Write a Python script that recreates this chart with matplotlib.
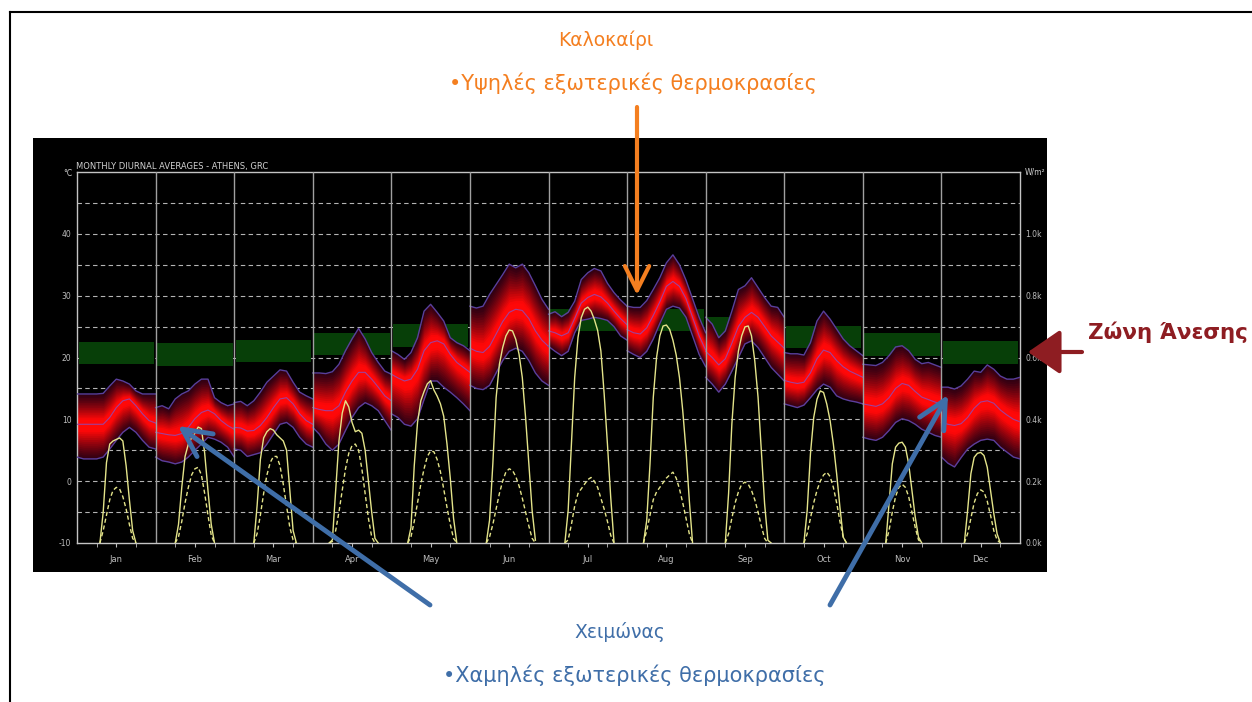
import numpy as np
import matplotlib
matplotlib.use('Agg')
import matplotlib.pyplot as plt
from matplotlib.patches import Rectangle, FancyArrowPatch
from matplotlib.lines import Line2D

plt.rcParams['font.family'] = ['DejaVu Sans']

W, H = 1252, 702

months = ['Jan', 'Feb', 'Mar', 'Apr', 'May', 'Jun',
          'Jul', 'Aug', 'Sep', 'Oct', 'Nov', 'Dec']

# hourly samples (every 2 h) of the diurnal temperature band, degC
hours = list(range(0, 25, 2))

temp_max = [
    [14.1, 14.1, 14.1, 14.1, 14.2, 15.4, 16.5, 16.2, 15.7, 14.6, 14.1, 14.1, 14.1],
    [11.9, 12.2, 11.7, 13.3, 14.1, 14.6, 15.7, 16.5, 16.5, 13.5, 12.7, 12.2, 12.5],
    [12.7, 12.9, 12.2, 13.0, 14.4, 16.0, 17.0, 18.0, 17.8, 16.0, 14.4, 13.8, 13.3],
    [17.5, 17.5, 17.4, 17.7, 18.9, 21.1, 23.0, 24.7, 23.0, 20.8, 19.2, 17.8, 17.3],
    [21.1, 20.5, 19.7, 20.8, 23.2, 27.5, 28.6, 27.3, 25.9, 23.2, 22.4, 21.9, 21.1],
    [28.3, 28.0, 28.3, 30.2, 31.8, 33.4, 35.1, 34.5, 35.1, 33.7, 31.6, 29.4, 27.8],
    [27.0, 27.4, 26.6, 27.3, 29.1, 32.6, 33.7, 34.4, 34.0, 32.0, 30.5, 29.3, 28.3],
    [28.3, 28.1, 28.1, 29.2, 31.0, 32.9, 35.3, 36.6, 35.0, 32.5, 29.5, 26.5, 24.0],
    [26.5, 25.4, 23.2, 24.3, 27.5, 31.0, 31.6, 32.9, 31.3, 29.7, 28.3, 28.1, 26.5],
    [20.8, 20.6, 20.6, 20.4, 22.4, 25.9, 27.5, 26.2, 24.6, 23.0, 21.9, 21.1, 20.3],
    [18.9, 18.8, 18.7, 19.2, 20.3, 21.7, 21.9, 21.1, 19.7, 19.0, 19.2, 18.8, 18.4],
    [15.2, 15.2, 14.9, 15.4, 16.5, 17.8, 17.6, 18.8, 18.1, 17.0, 16.5, 16.5, 16.8],
]

temp_mean = [
    [9.2, 9.2, 9.2, 9.2, 9.2, 10.3, 11.9, 13.0, 13.3, 12.2, 10.9, 9.8, 9.4],
    [7.9, 7.7, 7.5, 7.4, 7.7, 8.7, 10.1, 11.1, 11.5, 10.9, 9.8, 9.0, 8.4],
    [8.7, 8.6, 8.1, 8.2, 9.0, 10.3, 11.9, 13.3, 13.5, 12.5, 10.9, 9.8, 9.2],
    [11.9, 11.6, 11.4, 11.4, 12.2, 14.4, 16.2, 17.6, 17.6, 16.5, 15.2, 13.8, 13.0],
    [17.3, 16.7, 16.2, 16.5, 18.1, 21.1, 22.4, 22.7, 22.2, 20.5, 19.2, 18.4, 17.6],
    [21.5, 21.0, 20.8, 21.8, 23.8, 25.8, 27.3, 27.8, 27.6, 26.3, 24.3, 22.8, 21.8],
    [24.3, 24.0, 23.5, 24.0, 26.3, 28.8, 29.7, 30.2, 29.8, 28.8, 27.5, 26.3, 25.3],
    [24.5, 24.0, 23.8, 24.8, 26.8, 29.0, 31.5, 32.3, 31.5, 29.5, 26.5, 23.5, 21.2],
    [21.0, 20.0, 18.8, 19.8, 22.3, 25.0, 26.5, 27.3, 26.5, 25.0, 23.5, 22.5, 21.5],
    [16.3, 16.0, 15.8, 16.0, 17.5, 19.8, 21.2, 20.8, 19.5, 18.5, 17.8, 17.3, 16.8],
    [12.5, 12.3, 12.1, 12.5, 13.5, 15.0, 15.8, 15.5, 14.5, 13.6, 13.2, 12.8, 12.5],
    [9.5, 9.2, 9.0, 9.3, 10.3, 11.8, 12.8, 13.0, 12.6, 11.5, 10.7, 10.0, 9.6],
]

temp_min = [
    [3.9, 3.6, 3.6, 3.6, 3.9, 5.2, 6.6, 7.9, 8.7, 7.9, 6.6, 5.5, 5.2],
    [3.9, 3.3, 3.1, 2.8, 3.1, 3.9, 5.0, 6.0, 7.1, 6.8, 6.3, 5.5, 3.9],
    [5.2, 5.0, 4.0, 4.3, 4.6, 6.0, 7.6, 9.2, 9.5, 8.7, 7.1, 6.0, 5.5],
    [8.7, 7.6, 6.0, 5.0, 6.0, 8.2, 10.3, 11.9, 12.7, 12.2, 11.4, 9.8, 8.2],
    [10.9, 10.3, 9.2, 8.9, 10.1, 13.2, 16.2, 16.2, 15.2, 14.4, 13.5, 12.5, 11.4],
    [15.5, 15.0, 14.8, 15.5, 17.5, 19.5, 21.0, 21.5, 21.0, 19.5, 17.5, 16.2, 15.5],
    [21.8, 21.0, 20.3, 21.0, 24.0, 26.0, 26.2, 26.5, 26.3, 26.0, 25.0, 23.5, 22.8],
    [21.1, 20.5, 20.0, 21.0, 23.0, 25.5, 27.8, 28.3, 28.0, 26.5, 23.5, 20.5, 18.5],
    [16.8, 15.7, 14.4, 15.7, 17.8, 20.0, 22.2, 22.7, 21.6, 20.0, 18.4, 17.3, 16.2],
    [12.5, 12.2, 11.9, 12.3, 13.5, 14.8, 15.7, 15.2, 13.8, 13.3, 13.0, 12.8, 12.5],
    [7.1, 6.8, 6.6, 7.1, 8.2, 9.5, 10.1, 9.8, 9.2, 8.4, 7.9, 7.4, 7.1],
    [3.9, 2.9, 2.3, 3.8, 5.2, 6.0, 6.6, 6.8, 6.6, 5.5, 4.7, 3.9, 3.6],
]

# comfort zone per month, degC
comfort_low = [18.9, 18.7, 19.2, 20.4, 21.7, 22.8, 24.3, 24.3, 23.1, 21.6, 20.2, 19.0]
comfort_high = [22.5, 22.3, 22.8, 24.0, 25.4, 26.5, 27.8, 27.9, 26.6, 25.1, 23.9, 22.7]

# hourly solar radiation, W/m2, hours 5..20
solar_hours = list(range(5, 21))

solar_direct = [
    [0, 0, 0, 100, 260, 320, 330, 335, 340, 330, 250, 140, 40, 0, 0, 0],
    [0, 0, 60, 180, 280, 320, 340, 355, 375, 370, 290, 170, 60, 0, 0, 0],
    [0, 0, 120, 270, 340, 360, 370, 365, 350, 340, 330, 300, 170, 40, 0, 0],
    [0, 10, 170, 330, 420, 460, 440, 390, 360, 365, 355, 300, 200, 100, 15, 0],
    [0, 50, 250, 390, 460, 490, 515, 525, 495, 475, 450, 410, 320, 210, 80, 0],
    [0, 74, 256, 470, 578, 632, 670, 689, 686, 659, 611, 535, 406, 256, 105, 9],
    [0, 105, 320, 535, 664, 729, 756, 763, 750, 723, 688, 621, 482, 320, 148, 3],
    [0, 73, 256, 471, 600, 670, 702, 705, 691, 656, 608, 535, 428, 299, 138, 0],
    [0, 0, 160, 385, 535, 621, 670, 699, 702, 670, 589, 471, 299, 127, 9, 0],
    [0, 0, 105, 288, 406, 465, 492, 487, 449, 396, 320, 224, 116, 19, 0, 0],
    [0, 0, 0, 127, 256, 310, 323, 326, 310, 256, 170, 84, 19, 0, 0, 0],
    [0, 0, 0, 105, 224, 277, 290, 293, 283, 245, 170, 95, 30, 0, 0, 0],
]

solar_diffuse = [
    [0, 0, 0, 40, 90, 140, 170, 180, 175, 150, 110, 60, 15, 0, 0, 0],
    [0, 0, 20, 70, 130, 180, 220, 240, 245, 220, 160, 90, 25, 0, 0, 0],
    [0, 0, 30, 90, 160, 220, 260, 280, 280, 250, 190, 120, 50, 10, 0, 0],
    [0, 5, 40, 100, 170, 240, 290, 315, 320, 300, 240, 160, 80, 20, 0, 0],
    [0, 20, 70, 130, 190, 240, 280, 298, 295, 270, 230, 175, 115, 60, 15, 0],
    [0, 20, 60, 110, 160, 200, 230, 240, 235, 215, 185, 145, 100, 55, 15, 0],
    [0, 10, 60, 120, 160, 175, 190, 205, 212, 200, 180, 145, 110, 70, 25, 0],
    [0, 40, 90, 140, 165, 180, 195, 210, 220, 229, 210, 175, 130, 80, 30, 0],
    [0, 0, 30, 80, 130, 165, 190, 197, 190, 170, 140, 100, 55, 15, 0, 0],
    [0, 0, 30, 80, 130, 170, 200, 220, 229, 215, 180, 130, 70, 20, 0, 0],
    [0, 0, 0, 40, 100, 150, 180, 190, 180, 150, 100, 50, 10, 0, 0, 0],
    [0, 0, 0, 30, 80, 130, 160, 172, 165, 135, 90, 40, 10, 0, 0, 0],
]


def fx(x):
    return x / W


def fy(y):
    return 1 - y / H


fig = plt.figure(figsize=(W / 100, H / 100), dpi=100)
fig.patch.set_facecolor('white')

# slide frame
fig.add_artist(Line2D([fx(10), 1], [fy(12), fy(12)], color='black', lw=1.5))
fig.add_artist(Line2D([fx(10), fx(10)], [fy(12), 0], color='black', lw=1.5))

# black background of the screenshot
fig.add_artist(Rectangle((fx(33), fy(572)), fx(1047) - fx(33), fy(138) - fy(572),
                         transform=fig.transFigure, facecolor='black',
                         edgecolor='none', zorder=-1))

ax = fig.add_axes([fx(77), fy(543), fx(1020) - fx(77), fy(172) - fy(543)])
ax.set_facecolor('black')
ax.set_xlim(0, 288)
ax.set_ylim(-10, 50)

for v in range(-5, 50, 5):
    ax.axhline(v, color='#b4b4b4', lw=0.8, ls=(0, (4, 3)), zorder=0.5)

dark = np.array([0.20, 0.0, 0.07])
bright = np.array([1.0, 0.03, 0.03])
levels = np.linspace(1.0, 0.05, 18)

for m in range(12):
    x = m * 24 + np.array(hours)
    hi = np.array(temp_max[m])
    lo = np.array(temp_min[m])
    mid = np.array(temp_mean[m])
    ax.fill_between([m * 24 + 0.5, m * 24 + 23.5], comfort_low[m], comfort_high[m],
                    color='#073f08', lw=0, zorder=1)
    for f in levels:
        t = min(1.0, (1 - f) / 0.8) ** 1.2
        col = dark + (bright - dark) * t
        ax.fill_between(x, mid - f * (mid - lo), mid + f * (hi - mid),
                        color=col, lw=0, zorder=2)
    ax.plot(x, hi, color='#5a3f9c', lw=1, zorder=3)
    ax.plot(x, lo, color='#5a3f9c', lw=1, zorder=3)
    ax.plot(x, mid, color='#a0409c', lw=0.8, zorder=3)

for m in range(1, 12):
    ax.axvline(m * 24, color='#a0a0a0', lw=1, zorder=4)

for s in ax.spines.values():
    s.set_color('#c4c4c4')
    s.set_linewidth(1)

ax.set_xticks([m * 24 + 12 for m in range(12)], labels=months)
ax.set_xticks([m * 24 + h for m in range(12) for h in (6, 18)], minor=True)
ax.tick_params(axis='x', which='both', colors='#bdbdbd', length=3, labelsize=6, pad=6)
ax.set_yticks([-10, 0, 10, 20, 30, 40], labels=['-10', '0', '10', '20', '30', '40'])
ax.tick_params(axis='y', colors='#bdbdbd', length=0, labelsize=5.5, pad=4)

ax2 = ax.twinx()
ax2.set_ylim(0, 1200)
ax2.set_yticks([0, 200, 400, 600, 800, 1000],
               labels=['0.0k', '0.2k', '0.4k', '0.6k', '0.8k', '1.0k'])
ax2.tick_params(axis='y', colors='#bdbdbd', length=0, labelsize=5.5, pad=4)
for s in ax2.spines.values():
    s.set_visible(False)

for m in range(12):
    xs = m * 24 + np.array(solar_hours)
    for vals, style in ((solar_direct[m], '-'), (solar_diffuse[m], (0, (3, 2)))):
        vals = np.array(vals, dtype=float)
        nz = np.nonzero(vals)[0]
        a, b = max(nz[0] - 1, 0), min(nz[-1] + 2, len(vals))
        ax2.plot(xs[a:b], vals[a:b], color='#e4e48a', lw=1, ls=style)

fig.text(fx(76), fy(166), 'MONTHLY DIURNAL AVERAGES - ATHENS, GRC',
         color='#d0d0d0', fontsize=6, ha='left', va='center')
fig.text(fx(72), fy(173), '°C', color='#d0d0d0', fontsize=5.5, ha='right', va='center')
fig.text(fx(1025), fy(172), 'W/m²', color='#d0d0d0', fontsize=5.5, ha='left', va='center')

# slide annotations
orange = '#f47f20'
blue = '#3f6ea8'
maroon = '#8e1d22'

fig.text(fx(606), fy(40), 'Καλοκαίρι', color=orange, fontsize=13.5, ha='center', va='center')
fig.text(fx(633), fy(83), '•Υψηλές εξωτερικές θερμοκρασίες', color=orange,
         fontsize=15, ha='center', va='center')
fig.text(fx(620), fy(632), 'Χειμώνας', color=blue, fontsize=13.5, ha='center', va='center')
fig.text(fx(634), fy(675), '•Χαμηλές εξωτερικές θερμοκρασίες', color=blue,
         fontsize=15, ha='center', va='center')
fig.text(fx(1088), fy(332), 'Ζώνη Άνεσης', color=maroon, fontsize=15.5,
         fontweight='bold', ha='left', va='center')

arrows = [
    ((637, 107), (637, 295), orange, '->,head_length=0.7,head_width=0.35', 3),
    ((430, 605), (178, 426), blue, '->,head_length=0.8,head_width=0.4', 3.5),
    ((830, 605), (948, 395), blue, '->,head_length=0.8,head_width=0.4', 3.5),
    ((1082, 352), (1028, 352), maroon, '-|>,head_length=0.8,head_width=0.55', 3),
]
for (x0, y0), (x1, y1), c, style, lw in arrows:
    fig.add_artist(FancyArrowPatch((fx(x0), fy(y0)), (fx(x1), fy(y1)),
                                   transform=fig.transFigure, arrowstyle=style,
                                   mutation_scale=25, color=c, lw=lw, zorder=6,
                                   shrinkA=0, shrinkB=0))

fig.savefig('out.png', dpi=100, facecolor='white')
